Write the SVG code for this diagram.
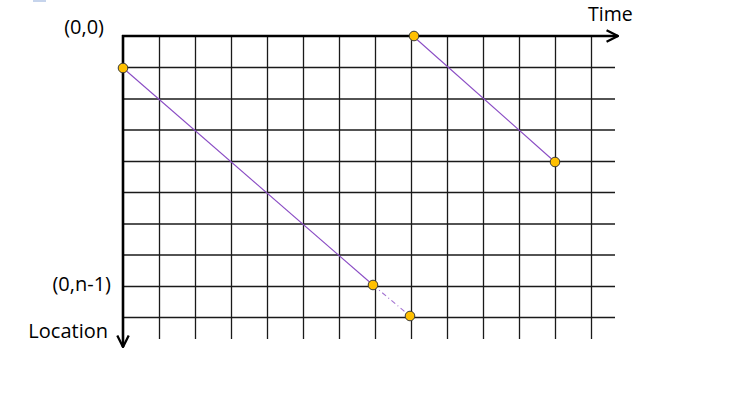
<svg xmlns="http://www.w3.org/2000/svg" width="730" height="408" viewBox="0 0 730 408">
<style>
.grid line{stroke:#1a1a1a;stroke-width:1.3}
.axis{stroke:#000;stroke-width:2.6;fill:none}
.traj{stroke:#8a4cc4;stroke-width:1.1;fill:none}
.dot{fill:#FFC000;stroke:#3a3a3a;stroke-width:1}
.lbl{font-family:"Open Sans","Liberation Sans",Arial,sans-serif;font-size:20px;fill:#000}
</style>
<defs>
<marker id="arr" viewBox="0 0 10 10" refX="9" refY="5" markerWidth="5.5" markerHeight="5.5" orient="auto" markerUnits="strokeWidth">
<path d="M1,1 L9,5 L1,9" fill="none" stroke="#000" stroke-width="1.6"/>
</marker>
</defs>
<rect x="33" y="0" width="13" height="2" fill="#C6D4EC"/>
<g id="grid" class="grid">
<line x1="123" y1="67.5" x2="615" y2="67.5"/>
<line x1="123" y1="99" x2="615" y2="99"/>
<line x1="123" y1="130" x2="615" y2="130"/>
<line x1="123" y1="161.5" x2="615" y2="161.5"/>
<line x1="123" y1="192.5" x2="615" y2="192.5"/>
<line x1="123" y1="224" x2="615" y2="224"/>
<line x1="123" y1="255" x2="615" y2="255"/>
<line x1="123" y1="286.5" x2="615" y2="286.5"/>
<line x1="123" y1="317.5" x2="615" y2="317.5"/>
<line x1="159.5" y1="36" x2="159.5" y2="339"/>
<line x1="195.5" y1="36" x2="195.5" y2="339"/>
<line x1="231.5" y1="36" x2="231.5" y2="339"/>
<line x1="267.5" y1="36" x2="267.5" y2="339"/>
<line x1="303.5" y1="36" x2="303.5" y2="339"/>
<line x1="339.5" y1="36" x2="339.5" y2="339"/>
<line x1="375.5" y1="36" x2="375.5" y2="339"/>
<line x1="411.5" y1="36" x2="411.5" y2="339"/>
<line x1="447.5" y1="36" x2="447.5" y2="339"/>
<line x1="483.5" y1="36" x2="483.5" y2="339"/>
<line x1="519.5" y1="36" x2="519.5" y2="339"/>
<line x1="555.5" y1="36" x2="555.5" y2="339"/>
<line x1="591.5" y1="36" x2="591.5" y2="339"/>
</g>
<g id="connectors">
<line class="axis" x1="122" y1="36" x2="618" y2="36" marker-end="url(#arr)"/>
<line class="axis" x1="123" y1="35" x2="123" y2="347" marker-end="url(#arr)"/>
<line class="traj" x1="123" y1="68" x2="373" y2="285"/>
<line class="traj" x1="373" y1="285" x2="410" y2="316" stroke-dasharray="5 3 1 3" opacity="0.8"/>
<line class="traj" x1="413" y1="36" x2="555" y2="162"/>
</g>
<g id="p1"><circle class="dot" cx="123" cy="68" r="4.8"/></g>
<g id="p2"><circle class="dot" cx="414" cy="36" r="4.8"/></g>
<g id="p3"><circle class="dot" cx="555" cy="162" r="4.8"/></g>
<g id="p4"><circle class="dot" cx="373" cy="285" r="4.8"/></g>
<g id="p5"><circle class="dot" cx="410" cy="316" r="4.8"/></g>
<g id="labels">
<text class="lbl" x="104" y="34" text-anchor="end">(0,0)</text>
<text class="lbl" x="111" y="291" text-anchor="end">(0,n-1)</text>
<text class="lbl" x="108" y="338" text-anchor="end">Location</text>
<text class="lbl" x="588" y="21" style="font-size:19.5px">Time</text>
</g>
</svg>
